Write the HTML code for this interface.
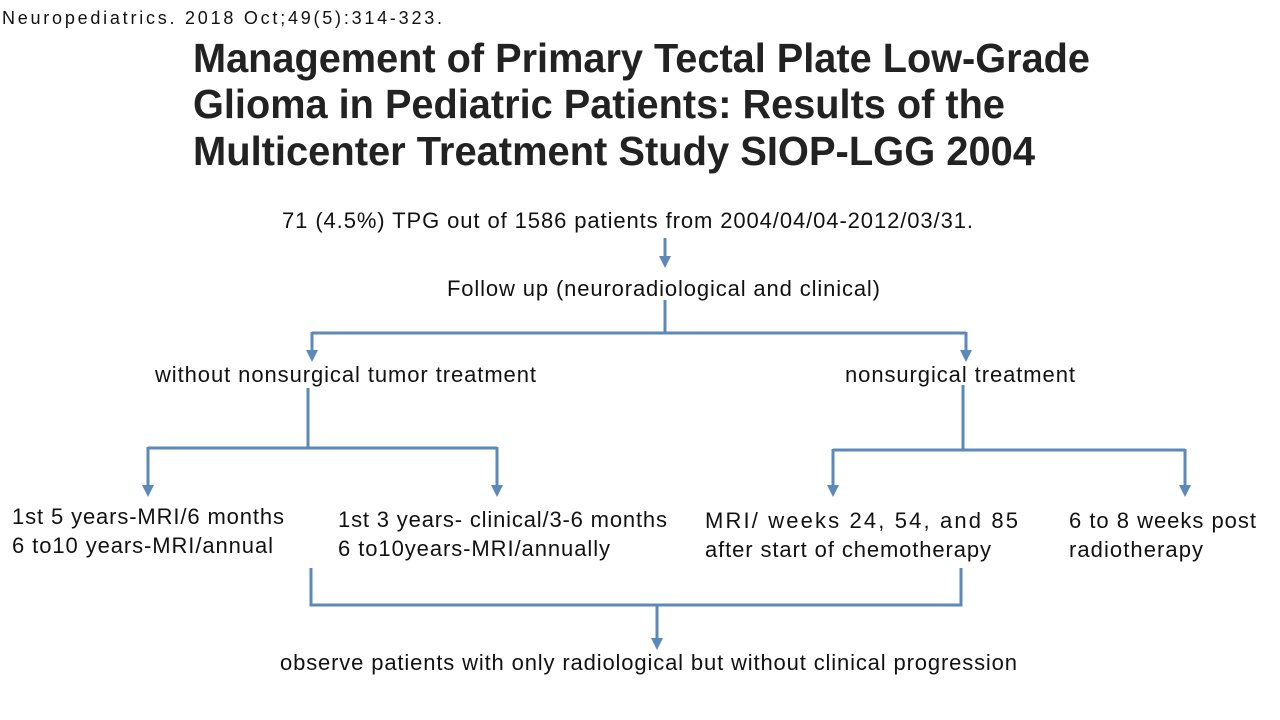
<!DOCTYPE html>
<html><head><meta charset="utf-8"><style>
html,body{margin:0;padding:0;background:#fff;}
svg{display:block;font-family:"Liberation Sans",Arial,sans-serif;}
</style></head><body>
<svg width="1280" height="720" viewBox="0 0 1280 720">
<defs>
<marker id="ah" markerWidth="4" markerHeight="4" refX="2" refY="2" orient="auto" markerUnits="strokeWidth">
<path d="M0,0 L4,2 L0,4 z" fill="#5b89b8"/>
</marker>
</defs>
<text x="2" y="24" font-size="18" fill="#111" textLength="440">Neuropediatrics. 2018 Oct;49(5):314-323.</text>
<g font-size="41" font-weight="bold" fill="#222">
<text x="193" y="72" textLength="897" lengthAdjust="spacingAndGlyphs">Management of Primary Tectal Plate Low-Grade</text>
<text x="193" y="118" textLength="812" lengthAdjust="spacingAndGlyphs">Glioma in Pediatric Patients: Results of the</text>
<text x="193" y="165" textLength="842" lengthAdjust="spacingAndGlyphs">Multicenter Treatment Study SIOP-LGG 2004</text>
</g>
<g font-size="22" fill="#111">
<text x="282" y="228" textLength="691">71 (4.5%) TPG out of 1586 patients from 2004/04/04-2012/03/31.</text>
<text x="447" y="296" textLength="433">Follow up (neuroradiological and clinical)</text>
<text x="155" y="382" textLength="381">without nonsurgical tumor treatment</text>
<text x="845" y="382" textLength="230">nonsurgical treatment</text>
<g>
<text x="12" y="524" textLength="272">1st 5 years-MRI/6 months</text>
<text x="12" y="553" textLength="261">6 to10 years-MRI/annual</text></g>
<g>
<text x="338" y="527" textLength="329">1st 3 years- clinical/3-6 months</text>
<text x="338" y="556" textLength="272">6 to10years-MRI/annually</text></g>
<g>
<text x="705" y="528" textLength="313">MRI/ weeks 24, 54, and 85</text>
<text x="705" y="557" textLength="286">after start of chemotherapy</text></g>
<g>
<text x="1069" y="528" textLength="187">6 to 8 weeks post</text>
<text x="1069" y="557" textLength="134">radiotherapy</text></g>
<text x="280" y="670" textLength="737">observe patients with only radiological but without clinical progression</text>
</g>
<g stroke="#5b89b8" stroke-width="3" fill="none">
<line x1="665" y1="238" x2="665" y2="262" marker-end="url(#ah)"/>
<polyline points="665,300 665,333"/>
<line x1="312" y1="333" x2="966" y2="333"/>
<line x1="312" y1="332" x2="312" y2="356" marker-end="url(#ah)"/>
<line x1="966" y1="332" x2="966" y2="356" marker-end="url(#ah)"/>
<line x1="308" y1="388" x2="308" y2="448"/>
<line x1="148" y1="448" x2="497" y2="448"/>
<line x1="148" y1="447" x2="148" y2="491" marker-end="url(#ah)"/>
<line x1="497" y1="447" x2="497" y2="491" marker-end="url(#ah)"/>
<line x1="963" y1="385" x2="963" y2="450"/>
<line x1="833" y1="450" x2="1185" y2="450"/>
<line x1="833" y1="449" x2="833" y2="491" marker-end="url(#ah)"/>
<line x1="1185" y1="449" x2="1185" y2="491" marker-end="url(#ah)"/>
<polyline points="311,568 311,605 961,605 961,568"/>
<line x1="657" y1="605" x2="657" y2="644" marker-end="url(#ah)"/>
</g>
</svg>
</body></html>
